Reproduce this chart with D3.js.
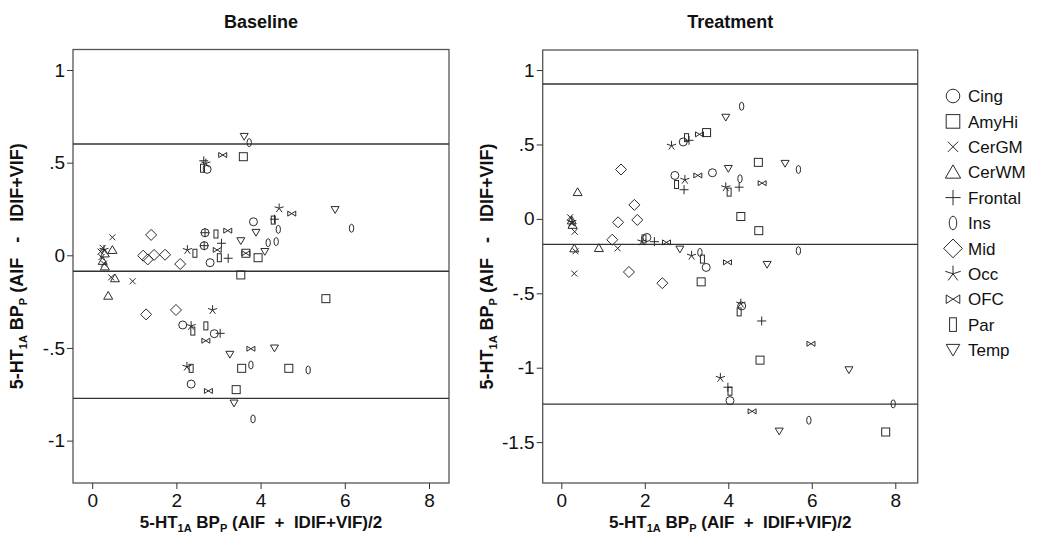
<!DOCTYPE html>
<html><head><meta charset="utf-8">
<script src="https://cdn.jsdelivr.net/npm/d3@7"></script>
<style>
body{margin:0;background:#fff;}
svg{display:block;}
.tick text{font-family:"Liberation Sans Narrow","Arial Narrow","Liberation Sans",Arial,sans-serif;font-size:19px;fill:#111;}
</style></head>
<body><svg id="c" width="1047" height="535"></svg>
<script>
// ---------- data ----------
const regions = ["Cing","AmyHi","CerGM","CerWM","Frontal","Ins","Mid","Occ","OFC","Par","Temp"];
const xTicks = [0,2,4,6,8];
const yTicksBaseline = [-1,-0.5,0,0.5,1];
const yTickLabelsBaseline = ["-1","-.5","0",".5","1"];
const yTicksTreatment = [-1.5,-1,-0.5,0,0.5,1];
const yTickLabelsTreatment = ["-1.5","-1","-.5","0",".5","1"];
const refLinesBaseline = [0.601,-0.086,-0.772];   // upper LoA, mean, lower LoA
const refLinesTreatment = [0.906,-0.171,-1.245];

// Baseline: [mean, difference] per region
const baseCing    = [[2.73,0.464],[3.83,0.181],[2.68,0.122],[2.66,0.052],[2.80,-0.04],[2.15,-0.376],[2.90,-0.423],[2.35,-0.695]];
const baseAmyHi   = [[3.59,0.532],[3.65,0.011],[3.94,-0.013],[3.53,-0.106],[5.55,-0.234],[3.55,-0.61],[4.67,-0.61],[3.42,-0.725]];
const baseCerGM   = [[0.48,0.097],[0.45,-0.119],[0.96,-0.14],[0.25,0.04],[0.22,-0.01],[0.28,-0.045],[0.20,0.02]];
const baseCerWM   = [[0.48,0.029],[0.54,-0.124],[0.38,-0.218],[0.30,0.01],[0.25,-0.03],[0.30,-0.06]];
const baseFrontal = [[2.65,0.51],[4.33,0.195],[3.07,0.065],[3.23,-0.016],[3.04,-0.421],[2.68,0.122],[2.66,0.052]];
const baseIns     = [[3.73,0.608],[6.16,0.146],[4.42,0.14],[4.18,0.068],[4.37,0.074],[3.77,-0.592],[5.13,-0.619],[3.82,-0.883]];
const baseMid     = [[1.40,0.11],[1.21,-0.002],[1.32,-0.022],[1.47,0.002],[1.73,0.003],[2.09,-0.047],[1.28,-0.319],[1.99,-0.295]];
const baseOcc     = [[2.70,0.496],[4.44,0.254],[2.26,0.029],[2.86,-0.295],[2.35,-0.381],[2.25,-0.601],[0.28,0.03]];
const baseOFC     = [[3.10,0.541],[4.74,0.225],[3.22,0.133],[2.97,0.029],[3.65,0.011],[2.70,-0.461],[3.77,-0.504],[2.76,-0.732]];
const basePar     = [[2.62,0.47],[4.30,0.19],[2.94,0.115],[2.44,0.011],[3.02,-0.013],[2.39,-0.409],[2.70,-0.381],[2.35,-0.61]];
const baseTemp    = [[3.61,0.64],[5.77,0.245],[3.89,0.122],[3.53,0.077],[4.10,0.019],[4.33,-0.502],[3.27,-0.536],[3.37,-0.799]];

// Treatment
const treatCing    = [[2.92,0.517],[3.62,0.31],[2.72,0.292],[2.05,-0.125],[3.47,-0.326],[4.32,-0.585],[4.04,-1.221]];
const treatAmyHi   = [[3.48,0.58],[4.72,0.38],[4.30,0.016],[4.73,-0.079],[3.35,-0.423],[4.76,-0.949],[7.77,-1.432]];
const treatCerGM   = [[0.21,0.011],[0.32,-0.086],[0.34,-0.218],[1.35,-0.198],[0.31,-0.367],[0.25,-0.03]];
const treatCerWM   = [[0.39,0.18],[0.31,-0.198],[0.90,-0.196],[0.25,-0.01],[0.27,-0.04]];
const treatFrontal = [[3.06,0.528],[2.94,0.196],[4.26,0.213],[2.23,-0.153],[4.80,-0.686],[3.99,-1.131]];
const treatIns     = [[4.32,0.757],[5.68,0.332],[4.28,0.27],[3.32,-0.225],[5.68,-0.214],[7.95,-1.243],[5.93,-1.353]];
const treatMid     = [[1.43,0.332],[1.75,0.094],[1.36,-0.023],[1.82,-0.007],[1.22,-0.14],[1.62,-0.357],[2.42,-0.432]];
const treatOcc     = [[2.64,0.492],[2.96,0.263],[3.94,0.213],[1.93,-0.151],[3.12,-0.247],[4.30,-0.569],[3.81,-1.068],[0.25,-0.02]];
const treatOFC     = [[3.31,0.568],[3.27,0.292],[4.81,0.24],[2.52,-0.158],[3.98,-0.292],[5.98,-0.839],[4.57,-1.293]];
const treatPar     = [[3.00,0.546],[2.76,0.231],[4.02,0.18],[1.98,-0.135],[3.38,-0.27],[4.26,-0.625],[4.04,-1.158]];
const treatTemp    = [[3.94,0.681],[5.36,0.371],[4.00,0.337],[2.84,-0.205],[4.93,-0.308],[6.89,-1.016],[5.22,-1.428]];

const baseSeries  = [baseCing,baseAmyHi,baseCerGM,baseCerWM,baseFrontal,baseIns,baseMid,baseOcc,baseOFC,basePar,baseTemp];
const treatSeries = [treatCing,treatAmyHi,treatCerGM,treatCerWM,treatFrontal,treatIns,treatMid,treatOcc,treatOFC,treatPar,treatTemp];

// ---------- drawing ----------
const svg = d3.select("#c");
const ink = "#2a2a2a";
const narrow = '"Liberation Sans Narrow","Arial Narrow","Liberation Sans",Arial,sans-serif';
const NB = "\u00a0";

function drawMarker(g, type, k){
  const st = {fill:"none", stroke:ink, "stroke-width":1};
  const add = (tag, attrs) => { const e = g.append(tag); Object.entries({...st,...attrs}).forEach(([a,v])=>e.attr(a,v)); return e; };
  const p = pts => "M" + pts.map(q=>q[0]*k+","+q[1]*k).join("L") + "Z";
  switch(type){
    case "Cing": add("circle",{r:4*k}); break;
    case "AmyHi": add("rect",{x:-4*k,y:-4*k,width:8*k,height:8*k}); break;
    case "CerGM": add("path",{d:`M${-3*k},${-3*k}L${3*k},${3*k}M${-3*k},${3*k}L${3*k},${-3*k}`}); break;
    case "CerWM": add("path",{d:p([[0,-4.3],[4.5,3.5],[-4.5,3.5]])}); break;
    case "Frontal": add("path",{d:`M${-4.5*k},0L${4.5*k},0M0,${-4.5*k}L0,${4.5*k}`}); break;
    case "Ins": add("ellipse",{rx:2.2*k,ry:4*k}); break;
    case "Mid": add("path",{d:p([[0,-5.5],[5.5,0],[0,5.5],[-5.5,0]])}); break;
    case "Occ": {
      let d="";
      for(let i=0;i<5;i++){const a=-Math.PI/2+i*2*Math.PI/5; d+=`M0,0L${Math.cos(a)*4.8*k},${Math.sin(a)*4.8*k}`;}
      add("path",{d}); break; }
    case "OFC": add("path",{d:p([[-4,-2.5],[4,2.5],[4,-2.5],[-4,2.5]])}); break;
    case "Par": add("rect",{x:-2*k,y:-4*k,width:4*k,height:8*k}); break;
    case "Temp": add("path",{d:p([[-4,-3.3],[4,-3.3],[0,3.5]])}); break;
  }
}

function subText(t, parts){
  let shifted = false;
  parts.forEach(([s,sub])=>{
    const ts = t.append("tspan").text(s);
    if(sub){ ts.attr("font-size","11px").attr("dy", shifted ? 0 : 4); shifted = true; }
    else if(shifted){ ts.attr("dy",-4); shifted = false; }
  });
}

function panel(opts){
  const {x0,x1,y0,y1,xDom,yDom,yTicks,yLabels,refs,series,title,ytitleX} = opts;
  const x = d3.scaleLinear().domain(xDom).range([x0,x1]);
  const y = d3.scaleLinear().domain(yDom).range([y1,y0]);
  const g = svg.append("g");
  g.append("rect").attr("x",x0).attr("y",y0).attr("width",x1-x0).attr("height",y1-y0)
    .attr("fill","none").attr("stroke","#555").attr("stroke-width",1.3);
  const ya = g.append("g").attr("transform",`translate(${x0},0)`)
    .call(d3.axisLeft(y).tickValues(yTicks).tickFormat((d,i)=>yLabels[i]).tickSize(6).tickPadding(2));
  ya.select(".domain").remove();
  ya.selectAll(".tick line").attr("stroke","#333");
  const xa = g.append("g").attr("transform",`translate(0,${y1})`)
    .call(d3.axisBottom(x).tickValues(xTicks).tickFormat(d3.format("d")).tickSize(6).tickPadding(5));
  xa.select(".domain").remove();
  xa.selectAll(".tick line").attr("stroke","#333");
  refs.forEach(v=>{
    g.append("line").attr("x1",x0).attr("x2",x1).attr("y1",y(v)).attr("y2",y(v))
      .attr("stroke","#333").attr("stroke-width",1.4);
  });
  series.forEach((s,i)=>{
    s.forEach(d=>{
      const m = g.append("g").attr("transform",`translate(${x(d[0])},${y(d[1])})`);
      drawMarker(m, regions[i], 1);
    });
  });
  g.append("text").attr("x",(x0+x1)/2).attr("y",28).attr("text-anchor","middle")
    .attr("font-family",narrow).attr("font-weight","bold").attr("font-size","18px").attr("fill","#111").text(title);
  const xt = g.append("text").attr("x",(x0+x1)/2).attr("y",527.5).attr("text-anchor","middle")
    .attr("font-family",narrow).attr("font-weight","bold").attr("font-size","17px").attr("fill","#111");
  subText(xt,[["5-HT",0],["1A",1],[" BP",0],["P",1],[" (AIF"+NB+NB+"+"+NB+NB+"IDIF+VIF)/2",0]]);
  const yt = g.append("text").attr("transform",`translate(${ytitleX},${(y0+y1)/2}) rotate(-90)`).attr("text-anchor","middle")
    .attr("font-family",narrow).attr("font-weight","bold").attr("font-size","18px").attr("fill","#111");
  subText(yt,[["5-HT",0],["1A",1],[" BP",0],["P",1],[" (AIF"+NB+NB+NB+"-"+NB+NB+NB+"IDIF+VIF)",0]]);
}

panel({x0:73,x1:449,y0:49.5,y1:483,xDom:[-0.456,8.475],yDom:[-1.2288,1.1106],
  yTicks:yTicksBaseline,yLabels:yTickLabelsBaseline,refs:refLinesBaseline,series:baseSeries,title:"Baseline",ytitleX:23});
panel({x0:542.7,x1:917.7,y0:50,y1:483,xDom:[-0.446,8.537],yDom:[-1.7747,1.1349],
  yTicks:yTicksTreatment,yLabels:yTickLabelsTreatment,refs:refLinesTreatment,series:treatSeries,title:"Treatment",ytitleX:493});

// legend
const leg = svg.append("g");
regions.forEach((r,i)=>{
  const yy = 96 + i*25.4;
  const m = leg.append("g").attr("transform",`translate(953,${yy})`);
  drawMarker(m, r, 1.7);
  leg.append("text").attr("x",968).attr("y",yy).attr("dy","0.36em")
    .attr("font-family",'"Liberation Sans",Arial,sans-serif').attr("font-size","17px").attr("fill","#111").text(r);
});
</script></body></html>
